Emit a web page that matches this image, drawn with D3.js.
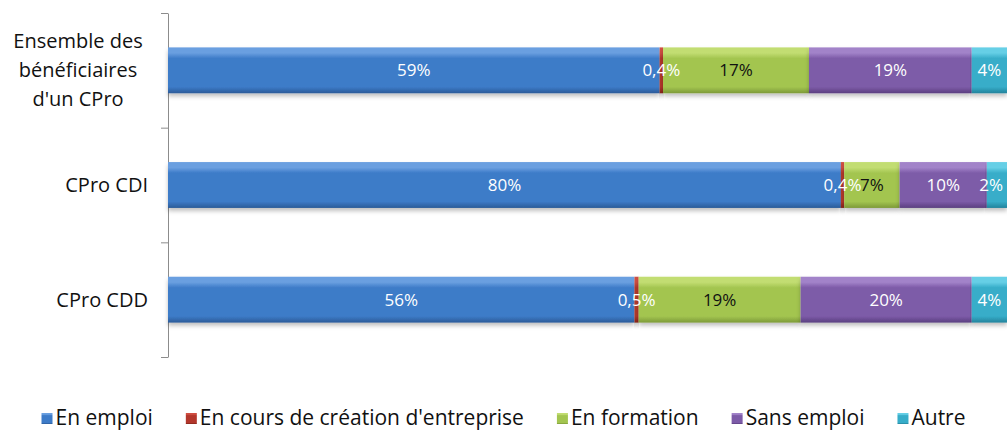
<!DOCTYPE html>
<html>
<head>
<meta charset="utf-8">
<script src="https://cdn.jsdelivr.net/npm/d3@7"></script>
<style>
  body { margin: 0; background: #fff; }
  svg { display: block; }
</style>
</head>
<body>
<div id="chart"></div>
<script>
// categories (top to bottom), line breaks as in the original
var categories = ["Ensemble des\nbénéficiaires\nd'un CPro", "CPro CDI", "CPro CDD"];

// series names, in stack order
var seriesNames = ["En emploi", "En cours de création d'entreprise", "En formation", "Sans emploi", "Autre"];

// values (%) per category
var enEmploi   = [58.6, 80.2, 55.6];
var enCreation = [0.4, 0.4, 0.5];
var enFormation = [17.4, 6.6, 19.3];
var sansEmploi = [19.4, 10.4, 20.4];
var autre      = [4.2, 2.4, 4.2];

var seriesValues = [enEmploi, enCreation, enFormation, sansEmploi, autre];

var W = 1007, H = 431;
var margin = {left: 168, right: 0, top: 13, bottom: 74};

// colours: [top light, face, bottom dark]
var palette = [
  ["#6a9fe0", "#3d7bc8", "#2b5b98"],
  ["#d04e42", "#b3372c", "#842519"],
  ["#c2dd72", "#a3c550", "#7d9a38"],
  ["#a283c9", "#7d5ba8", "#5b3f80"],
  ["#66cfe6", "#37adc9", "#23839c"]
];
var labelColors = ["#fff", "#fff", "#111", "#fff", "#fff"];

var svg = d3.select("#chart").append("svg")
  .attr("width", W)
  .attr("height", H)
  .style("font-family", "'Open Sans', 'Noto Sans', sans-serif");

var defs = svg.append("defs");
palette.forEach(function(c, i) {
  var g = defs.append("linearGradient")
    .attr("id", "grad" + i)
    .attr("x1", 0).attr("y1", 0).attr("x2", 0).attr("y2", 1);
  g.append("stop").attr("offset", "0%").attr("stop-color", c[0]);
  g.append("stop").attr("offset", "12%").attr("stop-color", c[0]);
  g.append("stop").attr("offset", "24%").attr("stop-color", c[1]);
  g.append("stop").attr("offset", "86%").attr("stop-color", c[1]);
  g.append("stop").attr("offset", "100%").attr("stop-color", c[2]);
});
var f = defs.append("filter").attr("id", "shadow")
  .attr("x", "-5%").attr("y", "-20%").attr("width", "110%").attr("height", "160%");
f.append("feDropShadow").attr("dx", 0).attr("dy", 3).attr("stdDeviation", 2)
  .attr("flood-color", "#000").attr("flood-opacity", 0.25);

// stack data
var rows = categories.map(function(c, i) {
  var r = {cat: c};
  seriesNames.forEach(function(s, j) { r[s] = seriesValues[j][i]; });
  return r;
});
var stacked = d3.stack().keys(seriesNames).offset(d3.stackOffsetExpand)(rows);

var x = d3.scaleLinear().domain([0, 1]).range([margin.left, W - margin.right]);
var y = d3.scaleBand().domain(categories)
  .range([margin.top, H - margin.bottom])
  .paddingInner(0.6).paddingOuter(0.3);

// category axis: ticks between bands
var yTicks = d3.scaleLinear().domain([0, categories.length]).range([margin.top, H - margin.bottom]);
var axis = svg.append("g")
  .attr("transform", "translate(" + margin.left + ",0)")
  .call(d3.axisLeft(yTicks).tickValues(d3.range(categories.length + 1)).tickFormat("").tickSize(7).tickSizeOuter(0));
axis.selectAll("path, line").attr("stroke", "#8c8c8c");

var layers = svg.selectAll(".layer")
  .data(stacked)
  .enter().append("g")
  .attr("class", "layer")
  .attr("fill", function(d, i) { return "url(#grad" + i + ")"; });

layers.selectAll("rect")
  .data(function(d) { return d; })
  .enter().append("rect")
  .attr("x", function(d) { return x(d[0]); })
  .attr("y", function(d) { return y(d.data.cat); })
  .attr("width", function(d) { return x(d[1]) - x(d[0]); })
  .attr("height", y.bandwidth())
  .attr("filter", "url(#shadow)");

// data labels, drawn above all bars
var fmt = function(v) {
  return v < 1 ? d3.format(".1f")(v).replace(".", ",") + "%" : Math.round(v) + "%";
};
var labels = svg.append("g");
stacked.forEach(function(layer, i) {
  labels.append("g").selectAll("text")
    .data(layer)
    .enter().append("text")
    .attr("y", function(d) { return y(d.data.cat) + y.bandwidth() / 2; })
    .attr("dy", "0.35em")
    .attr("text-anchor", "middle")
    .attr("fill", labelColors[i])
    .style("font-size", "17px")
    .text(function(d) { return fmt(d.data[layer.key]); })
    .attr("x", function(d) {
      // keep the label inside the chart at the right edge
      var w = this.getComputedTextLength();
      return Math.min((x(d[0]) + x(d[1])) / 2, W - w / 2 - 4);
    });
});

// category labels
categories.forEach(function(c) {
  var lines = c.split("\n");
  var lh = 29;
  var cy = y(c) + y.bandwidth() / 2;
  var t = svg.append("text")
    .attr("fill", "#111")
    .style("font-size", "20px")
    .attr("text-anchor", lines.length > 1 ? "middle" : "end");
  lines.forEach(function(l, k) {
    t.append("tspan")
      .attr("x", lines.length > 1 ? 78 : 148)
      .attr("y", cy + (k - (lines.length - 1) / 2) * lh)
      .attr("dy", "0.35em")
      .text(l);
  });
});

// legend
var legend = svg.append("g");
var lx = 0;
seriesNames.forEach(function(s, i) {
  var g = legend.append("g").attr("transform", "translate(" + lx + ",0)");
  g.append("rect").attr("x", 0).attr("y", -5).attr("width", 11).attr("height", 11)
    .attr("fill", "url(#grad" + i + ")");
  var t = g.append("text").attr("x", 14).attr("dy", "0.35em")
    .attr("fill", "#111").style("font-size", "21px").text(s);
  lx += 14 + t.node().getComputedTextLength() + 33;
});
lx -= 33;
legend.attr("transform", "translate(" + (W / 2 - lx / 2) + ",418)");
</script>
</body>
</html>
